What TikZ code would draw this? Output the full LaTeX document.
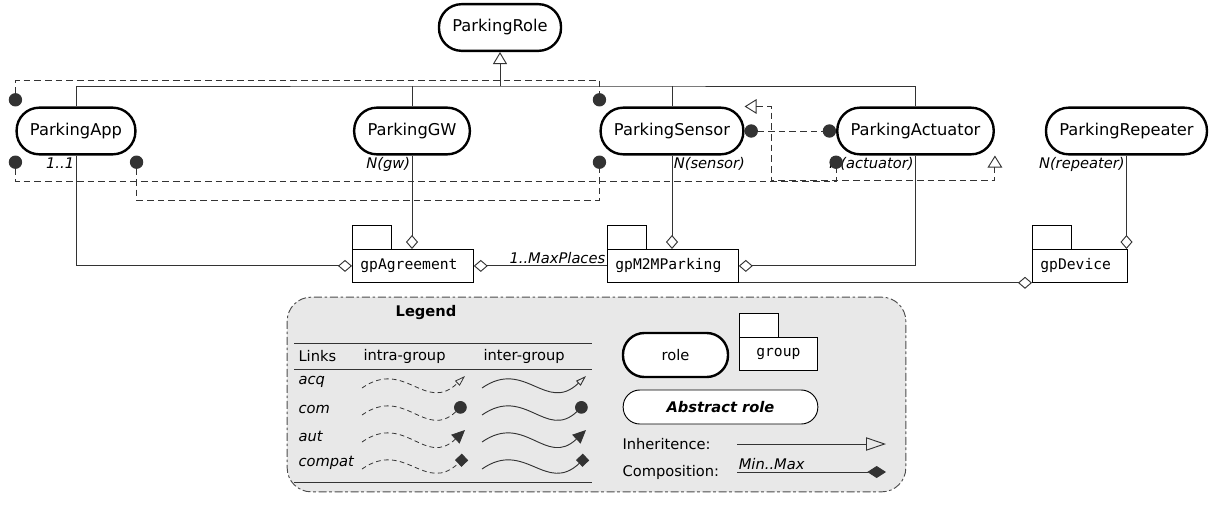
\documentclass[tikz,border=0pt]{standalone}
\usepackage{fontspec}
\setmainfont{DejaVu Sans}
\setmonofont{DejaVu Sans Mono}
\usepackage{tikz}
\usetikzlibrary{arrows.meta}

\begin{document}
\begin{tikzpicture}[x=0.75pt,y=-0.75pt,thick,
  role node/.style={draw,fill=white,line width=1.8pt,rounded corners=17pt,minimum height=35pt,inner xsep=10pt,font=\fontsize{12.2}{14}\selectfont},
  group node/.style={draw,fill=white,line width=0.6pt,anchor=north west,minimum height=24.75pt,inner xsep=6pt,align=left,font=\ttfamily\fontsize{11}{13}\selectfont},
  card/.style={inner sep=1pt,font=\itshape\fontsize{11}{13}\selectfont},
  ltext/.style={anchor=west,inner sep=0pt,font=\fontsize{11}{13}\selectfont},
  link/.style={draw=black!80,line width=0.7pt},
  dlink/.style={draw=black!80,line width=0.7pt,dash pattern=on 5pt off 3pt},
  has/.style={link,-{Diamond[open,length=10.5pt,width=9pt]}},
  com/.style={dlink,{Circle[length=10pt]}-{Circle[length=10pt]}},
  acq/.style={dlink,{Triangle[open,length=9pt,width=11pt]}-{Triangle[open,length=9pt,width=11pt]}},
  tacq/.style={-{Triangle[open,length=8pt,width=5pt]}},
  tcom/.style={-{Circle[length=9.5pt]}},
  taut/.style={-{Triangle[length=10pt,width=9pt]}},
  tcompat/.style={-{Square[length=7pt]}}]
  \useasboundingbox (0,0) rectangle (1211,504);

  % roles
  \node[role node] (Role) at (500,27.5) {ParkingRole};
  \node[role node] (App) at (76,131) {ParkingApp};
  \node[role node] (GW) at (412,131) {ParkingGW};
  \node[role node] (Sensor) at (672,131) {ParkingSensor};
  \node[role node] (Actuator) at (915.5,131) {ParkingActuator};
  \node[role node] (Repeater) at (1126.5,131) {ParkingRepeater};

  % groups
  \node[group node,text width=78.75pt] (agr) at (352,249) {gpAgreement};
  \node[group node,text width=86.25pt] (m2m) at (607,249) {gpM2MParking};
  \node[group node,text width=59.25pt] (dev) at (1032,249) {gpDevice};
  \foreach \g in {agr,m2m,dev}
    \draw[line width=0.6pt] (\g.north west) rectangle ++(39,-24);

  % inheritance
  \coordinate (bus) at (500,86);
  \draw[link] (App.north) |- (bus) -| (Actuator.north);
  \draw[link] (GW.north) -- (GW.north |- bus);
  \draw[link] (Sensor.north) -- (Sensor.north |- bus);
  \draw[link,-{Triangle[open,length=9pt,width=10.5pt]}] (bus) -- (Role.south);

  % cardinalities
  \node[card,anchor=north east] (cApp) at (App.south) {1..1};
  \node[card,anchor=north east] (cGW) at (GW.south) {N(gw)};
  \node[card,anchor=north west] (cSensor) at (Sensor.south) {N(sensor)};
  \node[card,anchor=north east] (cActuator) at (Actuator.south) {N(actuator)};
  \node[card,anchor=north east] (cRepeater) at (Repeater.south) {N(repeater)};

  % compositions
  \draw[has] (App.south) |- (agr.west);
  \draw[has] (GW.south) -- (GW.south |- agr.north);
  \draw[has] (Sensor.south) -- (Sensor.south |- m2m.north);
  \draw[has] (Actuator.south) |- (m2m.east);
  \draw[has] (Repeater.south) -- (Repeater.south |- dev.north);
  \draw[link,{Diamond[open,length=10.5pt,width=9pt]}-] (agr.east) -- (m2m.west)
    node[card,pos=1,anchor=south east] (cPlaces) {1..MaxPlaces};
  \draw[has] (m2m.south east) -- (dev.south west);

  % intra-group links
  \draw[com] (App.north west) -- ++(0,-26) -| (Sensor.north west);
  \draw[com] (App.south west) -- ++(0,26) -| (Actuator.south west);
  \draw[com] (App.south east) -- ++(0,45) -| (Sensor.south west);
  \draw[com] (Sensor.east) -- (Actuator.west);
  \draw[acq] (Sensor.north east) -- ++(27,0) -- ++(0,74) -| (Actuator.south east);

  % legend
  \node[draw=black!70,fill=black!9,line width=0.7pt,dash pattern=on 6pt off 2pt on 2pt off 2pt,
    rounded corners=18pt,minimum width=464pt,minimum height=146pt] (legend) at (596.5,394.5) {};
  \node[font=\bfseries\fontsize{11}{13}\selectfont] (ltitle) at (426,313) {Legend};
  \draw[link,line width=0.6pt] (294,343) -- (592,343);
  \draw[link,line width=0.6pt] (294,369) -- (592,369);
  \draw[link,line width=0.6pt] (294,482) -- (592,482);
  \node[ltext] (hLinks) at (298,356) {Links};
  \node[ltext] (hIntra) at (363,356) {intra-group};
  \node[ltext] (hInter) at (483,356) {inter-group};
  \foreach \lbl/\y in {acq/382,com/409,aut/436,compat/463}{
    \node[ltext,font=\itshape\fontsize{11}{13}\selectfont] (l\lbl) at (298,\y) {\lbl};
    \draw[dlink,line width=0.6pt,dash pattern=on 3.5pt off 2.5pt,t\lbl] (362,\y+6) .. controls +(43,-30) and +(-40,38) .. (465,\y-6);
    \draw[link,line width=0.7pt,t\lbl] (482,\y+6) .. controls +(43,-30) and +(-40,38) .. (586,\y-6);
  }
  \node[role node,minimum width=78.75pt,minimum height=33pt,rounded corners=16pt,font=\fontsize{11}{13}\selectfont] (lrole) at (675.5,355) {role};
  \node[group node,text width=46.5pt,align=center] (lgroup) at (739,337) {group};
  \draw[line width=0.6pt,fill=white] (lgroup.north west) rectangle ++(39,-24);
  \node[draw,fill=white,line width=0.7pt,rounded corners=12.5pt,minimum width=146pt,minimum height=25.5pt,
    font=\bfseries\itshape\fontsize{11}{13}\selectfont] (labstract) at (720.5,407) {Abstract role};
  \node[ltext] (linh) at (622,444) {Inheritence:};
  \node[ltext] (lcomp) at (622,472) {Composition:};
  \coordinate (inhA) at (737,444);
  \coordinate (inhB) at (886,444);
  \coordinate (cmpA) at (737,472);
  \coordinate (cmpB) at (886,472);
  \draw[link,-{Triangle[open,length=15pt,width=10pt]}] (inhA) -- (inhB);
  \draw[link,-{Diamond[length=14pt,width=9pt]}] (cmpA) -- (cmpB)
    node[card,pos=0,anchor=south west] (lminmax) {Min..Max};
\end{tikzpicture}
\end{document}
